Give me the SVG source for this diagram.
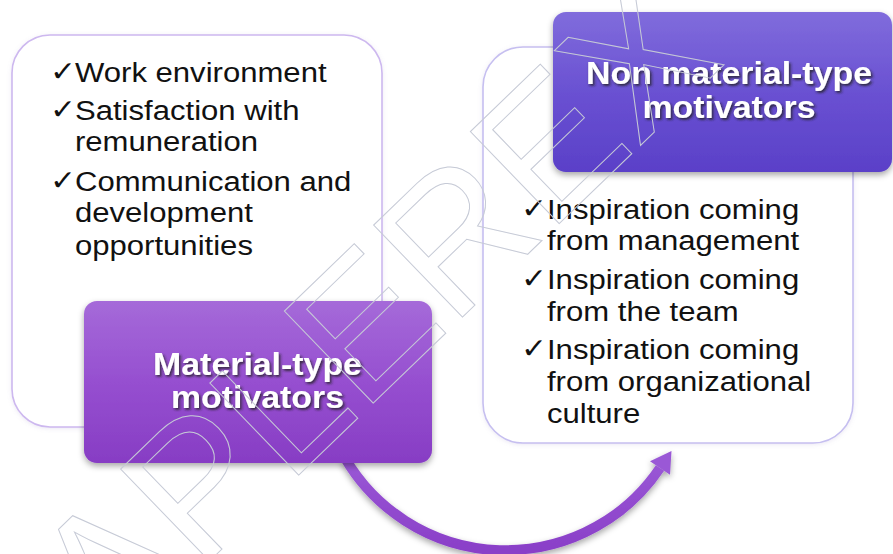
<svg xmlns="http://www.w3.org/2000/svg" width="893" height="554" viewBox="0 0 893 554">
  <style>
    .frame { fill: #ffffff; stroke-width: 1.6; }
    .item { font-family: "Liberation Sans", Arial, sans-serif; font-size: 28px; fill: #111111; }
    .tick { font-family: "DejaVu Sans", sans-serif; font-size: 28px; fill: #111111; }
    .title { font-family: "Liberation Sans", Arial, sans-serif; font-weight: bold; font-size: 30.5px; fill: #ffffff; text-anchor: middle; }
    .stamp { font-family: "Liberation Sans", Arial, sans-serif; font-size: 186px; fill: none; stroke: #c6cad6; stroke-width: 1; }
  </style>
  <defs>
    <linearGradient id="gMat" x1="0" y1="0" x2="0" y2="1">
      <stop offset="0" stop-color="#a56ad9"/>
      <stop offset="0.5" stop-color="#964fd0"/>
      <stop offset="1" stop-color="#873dc4"/>
    </linearGradient>
    <linearGradient id="gNon" x1="0" y1="0" x2="0" y2="1">
      <stop offset="0" stop-color="#806cdc"/>
      <stop offset="0.5" stop-color="#6a51d2"/>
      <stop offset="1" stop-color="#5a40c8"/>
    </linearGradient>
    <linearGradient id="gArc" x1="0" y1="0" x2="0" y2="1">
      <stop offset="0" stop-color="#9a58d6"/>
      <stop offset="1" stop-color="#8a3fc8"/>
    </linearGradient>
    <filter id="boxShadow" x="-10%" y="-10%" width="120%" height="135%">
      <feDropShadow dx="0" dy="3" stdDeviation="3" flood-color="#000000" flood-opacity="0.35"/>
    </filter>
    <filter id="frameGlow" x="-5%" y="-5%" width="110%" height="110%">
      <feDropShadow dx="0" dy="1" stdDeviation="2" flood-color="#9080c0" flood-opacity="0.18"/>
    </filter>
    <filter id="textShadow" x="-10%" y="-30%" width="120%" height="160%">
      <feDropShadow dx="1.5" dy="2" stdDeviation="1.2" flood-color="#222222" flood-opacity="0.8"/>
    </filter>
  </defs>

  <rect width="893" height="554" fill="#ffffff"/>

  <!-- curved arrow from the material box to the non-material list -->
  <g id="connectors" filter="url(#boxShadow)">
    <path d="M 345 458 A 186 186 0 0 0 660 468" fill="none" stroke="url(#gArc)" stroke-width="10"/>
    <polygon points="671.5,451 670,474.7 650,461.3" fill="#9a58d6"/>
  </g>

  <!-- material-type block -->
  <g id="material-list">
    <rect class="frame" x="12" y="35" width="370" height="392" rx="38" stroke="#cdb8ef" filter="url(#frameGlow)"/>
    <g transform="translate(50 0) scale(1.11 1)">
      <text class="tick" x="0" y="81">✓</text>
      <text class="item" x="22.5" y="82">Work environment</text>
      <text class="tick" x="0" y="119">✓</text>
      <text class="item" x="22.5" y="120">Satisfaction with</text>
      <text class="item" x="22.5" y="151">remuneration</text>
      <text class="tick" x="0" y="190">✓</text>
      <text class="item" x="22.5" y="191">Communication and</text>
      <text class="item" x="22.5" y="222">development</text>
      <text class="item" x="22.5" y="255">opportunities</text>
    </g>
  </g>
  <g id="material-title">
    <rect x="84" y="301" width="348" height="162" rx="13" fill="url(#gMat)" filter="url(#boxShadow)"/>
    <g transform="translate(257.5 0) scale(1.11 1)" filter="url(#textShadow)">
      <text class="title" x="0" y="375">Material-type</text>
      <text class="title" x="0" y="408">motivators</text>
    </g>
  </g>

  <!-- non-material-type block -->
  <g id="non-material-list">
    <rect class="frame" x="483" y="47" width="370" height="396" rx="40" stroke="#c6bff0" filter="url(#frameGlow)"/>
    <g transform="translate(521 0) scale(1.11 1)">
      <text class="tick" x="0" y="218">✓</text>
      <text class="item" x="23.4" y="219">Inspiration coming</text>
      <text class="item" x="23.4" y="250">from management</text>
      <text class="tick" x="0" y="288">✓</text>
      <text class="item" x="23.4" y="289">Inspiration coming</text>
      <text class="item" x="23.4" y="321">from the team</text>
      <text class="tick" x="0" y="358">✓</text>
      <text class="item" x="23.4" y="359">Inspiration coming</text>
      <text class="item" x="23.4" y="391">from organizational</text>
      <text class="item" x="23.4" y="423">culture</text>
    </g>
  </g>
  <g id="non-material-title">
    <rect x="553" y="12" width="339" height="160" rx="13" fill="url(#gNon)" filter="url(#boxShadow)"/>
    <g transform="translate(729 0) scale(1.11 1)" filter="url(#textShadow)">
      <text class="title" x="0" y="84">Non material-type</text>
      <text class="title" x="0" y="118">motivators</text>
    </g>
  </g>

  <!-- outlined stamp lettering across the page -->
  <text class="stamp" transform="translate(418 360) rotate(-44)" text-anchor="middle">APLEREX</text>
</svg>
